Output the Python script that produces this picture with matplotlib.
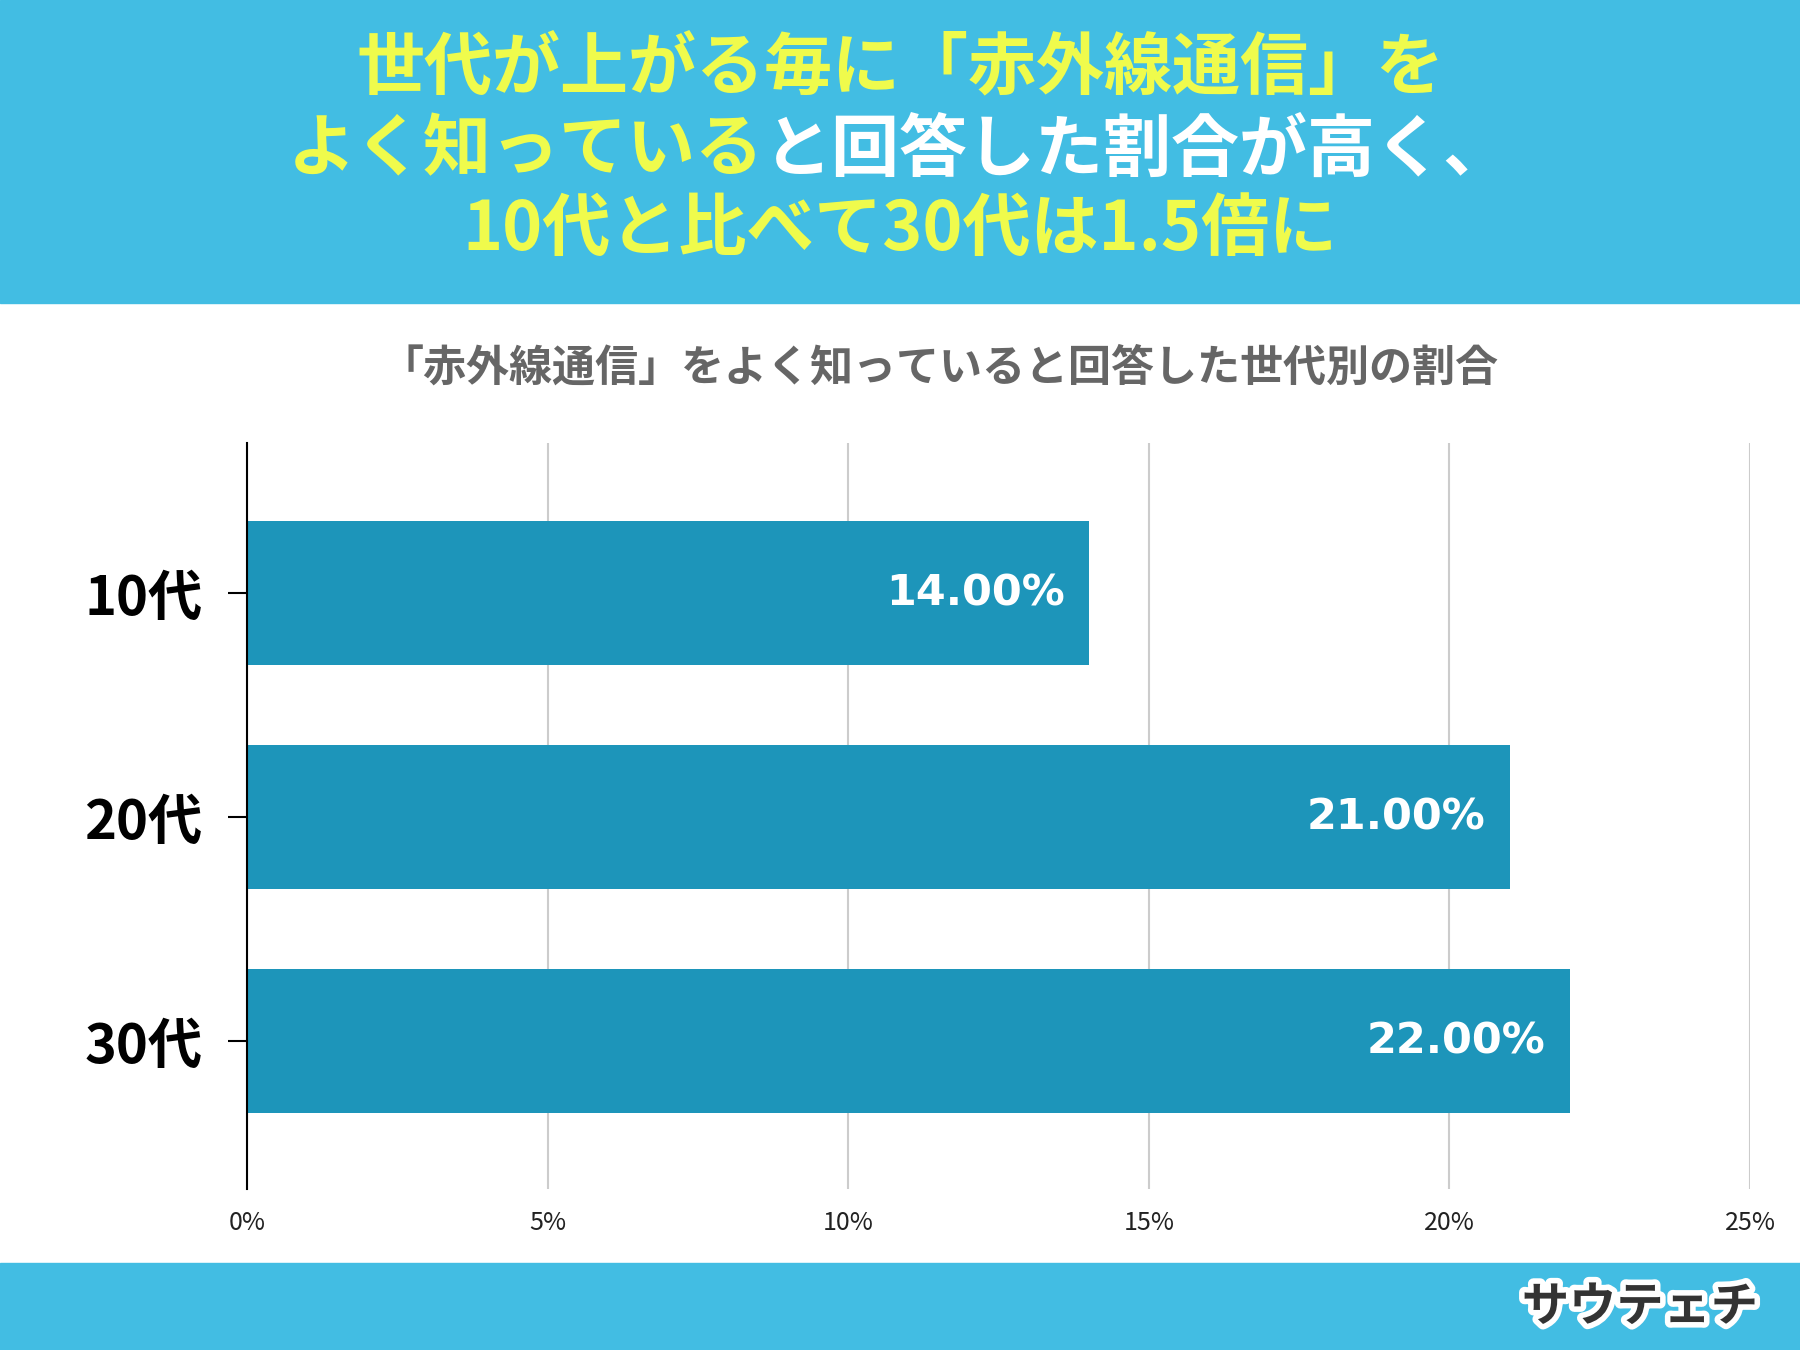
import matplotlib.pyplot as plt
import matplotlib.patheffects as pe

plt.rcParams['font.family'] = ['Noto Sans CJK JP', 'DejaVu Sans']

# datos
categorias = ['10代', '20代', '30代']
valores = [14.0, 21.0, 22.0]
ticks_x = [0, 5, 10, 15, 20, 25]
etiquetas_x = ['0%', '5%', '10%', '15%', '20%', '25%']

titulo_amarillo_1 = '世代が上がる毎に「赤外線通信」を'
titulo_amarillo_2 = 'よく知っている'
titulo_blanco_2 = 'と回答した割合が高く、'
titulo_amarillo_3 = '10代と比べて30代は1.5倍に'
subtitulo = '「赤外線通信」をよく知っていると回答した世代別の割合'
logo = 'サウテェチ'

azul_banda = '#42BDE3'
amarillo = '#EFFB4C'
azul_barra = '#1D95BA'

fig = plt.figure(figsize=(18, 13.5), dpi=100)
W, H = 1800, 1350
ft = 49

# bandas de arriba y abajo
fig.add_artist(plt.Rectangle((0, 1 - 303 / H), 1, 303 / H, transform=fig.transFigure,
                             color=azul_banda, zorder=0))
fig.add_artist(plt.Rectangle((0, 0), 1, 87 / H, transform=fig.transFigure,
                             color=azul_banda, zorder=0))

# titulo
fig.text(0.5, 1 - 69 / H, titulo_amarillo_1, ha='center', va='center',
         fontsize=ft, fontweight='bold', color=amarillo)
t1 = fig.text(0.5, 1 - 151 / H, titulo_amarillo_2 + titulo_blanco_2, ha='center', va='center',
              fontsize=ft, fontweight='bold', color=amarillo, alpha=0)
# segunda linea en dos colores
fig.canvas.draw()
bb = t1.get_window_extent()
ta = fig.text(bb.x0 / W, 1 - 151 / H, titulo_amarillo_2, ha='left', va='center',
              fontsize=ft, fontweight='bold', color=amarillo)
bba = ta.get_window_extent()
fig.text(bba.x1 / W, 1 - 151 / H, titulo_blanco_2, ha='left', va='center',
         fontsize=ft, fontweight='bold', color='white')
fig.text(0.5, 1 - 231 / H, titulo_amarillo_3, ha='center', va='center',
         fontsize=ft, fontweight='bold', color=amarillo)

# subtitulo
fig.text(0.522, 1 - 368 / H, subtitulo, ha='center', va='center',
         fontsize=31, fontweight='bold', color='#666666')

# grafico
ax = fig.add_axes([247 / W, 1 - 1189 / H, (1750 - 247) / W, (1189 - 443) / H])
y = list(range(len(categorias)))
ax.barh(y, valores, height=0.64, color=azul_barra, zorder=2)
for yi, v in zip(y, valores):
    ax.text(v - 0.4, yi, f'{v:.2f}%', ha='right', va='center', color='white',
            fontsize=31, fontweight='bold', family='DejaVu Sans', zorder=3)

ax.set_xlim(0, 25)
ax.set_ylim(2.66, -0.67)
ax.set_xticks(ticks_x)
ax.set_xticklabels(etiquetas_x, fontsize=18, color='#222222')
ax.set_yticks(y)
ax.set_yticklabels(categorias, fontsize=39, fontweight='bold')
ax.tick_params(axis='y', direction='inout', length=28, width=1.5, pad=18)
ax.tick_params(axis='x', length=0, pad=15)
ax.grid(axis='x', color='#cccccc', linewidth=1.5, zorder=0)
for s in ['top', 'right', 'bottom']:
    ax.spines[s].set_visible(False)
ax.spines['left'].set_linewidth(1.5)
ax.spines['left'].set_zorder(4)

# logo
fig.text(1640 / W, 1 - 1307 / H, logo, ha='center', va='center', fontsize=34,
         fontweight='bold', color='#333333',
         path_effects=[pe.withStroke(linewidth=8, foreground='white')])

fig.savefig('out.png', dpi=100)
